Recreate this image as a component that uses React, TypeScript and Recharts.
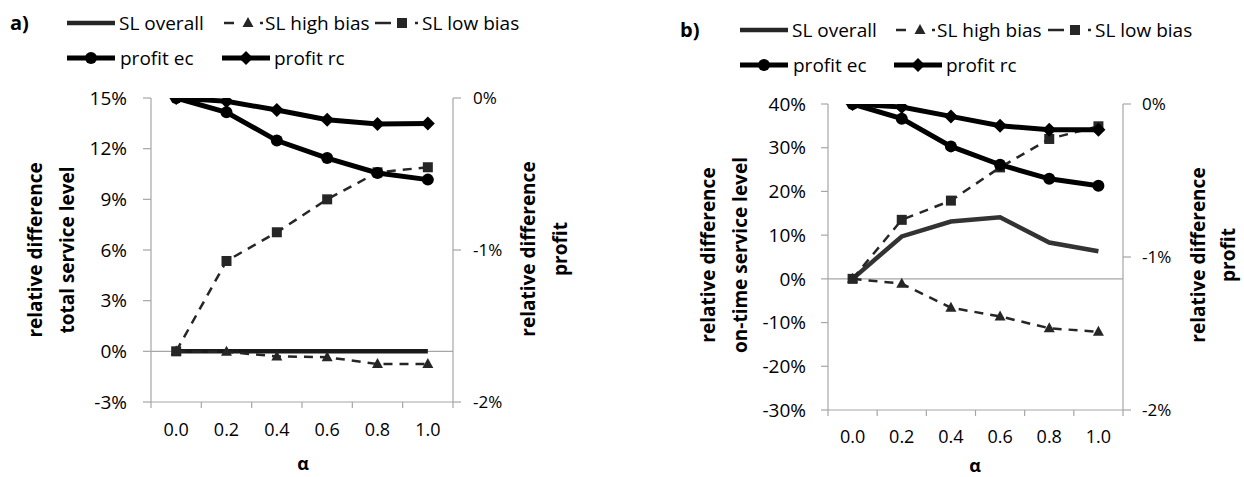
import React from 'react';
import { LineChart, Line, XAxis, YAxis, ReferenceLine } from 'recharts';

// ---------- data ----------
const alphaLabels = ['0.0', '0.2', '0.4', '0.6', '0.8', '1.0'];

// panel a (service level in %, profit in %)
const slOverallA = [0, 0, 0, 0, 0, 0];
const slHighA = [0, -0.03, -0.3, -0.35, -0.75, -0.75];
const slLowA = [0, 5.35, 7.05, 9.0, 10.6, 10.9];
const profitEcA = [0, -0.094, -0.28, -0.395, -0.493, -0.537];
const profitRcA = [0, -0.022, -0.079, -0.143, -0.171, -0.167];

// panel b
const slOverallB = [0, 9.7, 13.1, 14.1, 8.3, 6.3];
const slHighB = [0, -1.1, -6.6, -8.6, -11.3, -12.1];
const slLowB = [0, 13.5, 17.9, 25.5, 32.0, 34.9];
const profitEcB = [0, -0.096, -0.277, -0.397, -0.489, -0.534];
const profitRcB = [0, -0.02, -0.081, -0.142, -0.168, -0.168];

const leftTicksA = [-3, 0, 3, 6, 9, 12, 15];
const leftTicksB = [-30, -20, -10, 0, 10, 20, 30, 40];
const rightTicks = [-2, -1, 0];

const leftDomainA: [number, number] = [-3, 15];
const leftDomainB: [number, number] = [-30, 40];
const rightDomain: [number, number] = [-2, 0];

const seriesNames = ['SL overall', 'SL high bias', 'SL low bias', 'profit ec', 'profit rc'];

const build = (o: number[], h: number[], l: number[], e: number[], r: number[]) =>
  alphaLabels.map((a, i) => ({ alpha: a, slOverall: o[i], slHigh: h[i], slLow: l[i], profitEc: e[i], profitRc: r[i] }));

const dataA = build(slOverallA, slHighA, slLowA, profitEcA, profitRcA);
const dataB = build(slOverallB, slHighB, slLowB, profitEcB, profitRcB);

// ---------- styles ----------
const GRAY = '#a6a6a6';
const DARK = '#262626';
const FONT = "'Open Sans', sans-serif";
const AXIS_STYLE = { stroke: GRAY, strokeWidth: 1.2 };
const L_TICK = { fontSize: 19, fill: '#000', fontFamily: FONT };
const R_TICK = { fontSize: 17, fill: '#000', fontFamily: FONT };

const triShape = (cx: number, cy: number, k?: string) => (
  <path key={k} d={`M${cx},${cy - 6}L${cx + 5.5},${cy + 4}L${cx - 5.5},${cy + 4}Z`} fill={DARK} />
);
const sqShape = (cx: number, cy: number, k?: string) => (
  <rect key={k} x={cx - 5} y={cy - 5} width={10} height={10} fill={DARK} />
);
const circShape = (cx: number, cy: number, k?: string) => <circle key={k} cx={cx} cy={cy} r={6} fill="#000" />;
const diaShape = (cx: number, cy: number, k?: string) => (
  <path key={k} d={`M${cx},${cy - 7}L${cx + 7},${cy}L${cx},${cy + 7}L${cx - 7},${cy}Z`} fill="#000" />
);

const mkDot = (fn: (cx: number, cy: number, k?: string) => React.ReactElement, pfx: string) => (p: any) => {
  if (p.cx == null || p.cy == null) return <g key={`${pfx}${p.index}`} />;
  return fn(p.cx, p.cy, `${pfx}${p.index}`);
};
const triDot = mkDot(triShape, 't');
const sqDot = mkDot(sqShape, 's');
const circDot = mkDot(circShape, 'c');
const diaDot = mkDot(diaShape, 'd');

const pct = (v: number) => `${v}%`;

// category tick: label centred in the band, tick marks on band boundaries (Excel style)
const makeCatTick = (margin: number) => (props: any) => {
  const { x, y, payload, index, visibleTicksCount, width } = props;
  const half =
    payload && typeof payload.offset === 'number' && payload.offset > 0
      ? payload.offset
      : width / (visibleTicksCount || 6) / 2;
  const y0 = y - margin;
  return (
    <g>
      <line x1={x - half} x2={x - half} y1={y0} y2={y0 + 6} stroke={GRAY} strokeWidth={1.2} />
      {index === visibleTicksCount - 1 ? (
        <line x1={x + half} x2={x + half} y1={y0} y2={y0 + 6} stroke={GRAY} strokeWidth={1.2} />
      ) : null}
      <text x={x} y={y} dy="0.71em" textAnchor="middle" fontSize={18} fill="#000" fontFamily={FONT}>
        {payload.value}
      </text>
    </g>
  );
};

type PanelProps = {
  data: any[];
  left: number;
  width: number;
  top: number;
  xAxisH: number;
  leftW: number;
  rightW: number;
  leftDomain: [number, number];
  leftTicks: number[];
  overallColor: string;
  leftTickMargin: number;
  rightTickMargin: number;
  xTickMargin: number;
  leftTickSize: number;
};

const Panel = (p: PanelProps) => {
  const catTick = React.useMemo(() => makeCatTick(p.xTickMargin), [p.xTickMargin]);
  return (
    <div style={{ position: 'absolute', left: p.left, top: 0 }}>
      <LineChart width={p.width} height={477} data={p.data} margin={{ top: p.top, right: 0, bottom: 0, left: 0 }}>
        <XAxis
          xAxisId="cat"
          dataKey="alpha"
          scale="band"
          interval={0}
          tickLine={false}
          tickSize={0}
          tickMargin={p.xTickMargin}
          height={p.xAxisH}
          axisLine={AXIS_STYLE}
          tick={catTick}
        />
        <YAxis
          yAxisId="left"
          orientation="left"
          width={p.leftW}
          domain={p.leftDomain}
          ticks={p.leftTicks}
          interval={0}
          tickFormatter={pct}
          tickSize={p.leftTickSize}
          tickMargin={p.leftTickMargin}
          axisLine={AXIS_STYLE}
          tickLine={AXIS_STYLE}
          tick={L_TICK}
          allowDataOverflow
        />
        <YAxis
          yAxisId="right"
          orientation="right"
          width={p.rightW}
          domain={rightDomain}
          ticks={rightTicks}
          interval={0}
          tickFormatter={pct}
          tickSize={8}
          tickMargin={p.rightTickMargin}
          axisLine={AXIS_STYLE}
          tickLine={AXIS_STYLE}
          tick={R_TICK}
          allowDataOverflow
        />
        <ReferenceLine xAxisId="cat" yAxisId="left" y={0} stroke={GRAY} strokeWidth={1.2} />
        <Line
          xAxisId="cat"
          yAxisId="left"
          dataKey="slOverall"
          name={seriesNames[0]}
          stroke={p.overallColor}
          strokeWidth={4.5}
          dot={false}
          isAnimationActive={false}
        />
        <Line
          xAxisId="cat"
          yAxisId="left"
          dataKey="slHigh"
          name={seriesNames[1]}
          stroke={DARK}
          strokeWidth={2.5}
          strokeDasharray="9 7"
          dot={triDot}
          isAnimationActive={false}
        />
        <Line
          xAxisId="cat"
          yAxisId="left"
          dataKey="slLow"
          name={seriesNames[2]}
          stroke={DARK}
          strokeWidth={2.5}
          strokeDasharray="9 7"
          dot={sqDot}
          isAnimationActive={false}
        />
        <Line
          xAxisId="cat"
          yAxisId="right"
          dataKey="profitEc"
          name={seriesNames[3]}
          stroke="#000"
          strokeWidth={5}
          dot={circDot}
          isAnimationActive={false}
        />
        <Line
          xAxisId="cat"
          yAxisId="right"
          dataKey="profitRc"
          name={seriesNames[4]}
          stroke="#000"
          strokeWidth={5}
          dot={diaDot}
          isAnimationActive={false}
        />
      </LineChart>
    </div>
  );
};

type LegendPos = {
  y1: number;
  y2: number;
  ov: number; // start of overall / ec sample
  hi: number; // start of high-bias dash
  lo: number; // start of low-bias dash
  rc: number; // start of rc sample
};

const LegendBlock = ({ y1, y2, ov, hi, lo, rc }: LegendPos) => {
  const fs = 19;
  return (
    <g fontFamily={FONT} fontSize={fs} fill="#000">
      {/* SL overall */}
      <line x1={ov} x2={ov + 48} y1={y1} y2={y1} stroke="#262626" strokeWidth={4.5} />
      <text x={ov + 52} y={y1} dominantBaseline="central">{seriesNames[0]}</text>
      {/* SL high bias */}
      <line x1={hi} x2={hi + 10} y1={y1} y2={y1} stroke={DARK} strokeWidth={2.5} />
      {triShape(hi + 24, y1)}
      <line x1={hi + 36} x2={hi + 39} y1={y1} y2={y1} stroke={DARK} strokeWidth={2.5} />
      <text x={hi + 41} y={y1} dominantBaseline="central">{seriesNames[1]}</text>
      {/* SL low bias */}
      <line x1={lo} x2={lo + 16} y1={y1} y2={y1} stroke={DARK} strokeWidth={2.5} />
      {sqShape(lo + 27, y1)}
      <line x1={lo + 40} x2={lo + 43} y1={y1} y2={y1} stroke={DARK} strokeWidth={2.5} />
      <text x={lo + 47} y={y1} dominantBaseline="central">{seriesNames[2]}</text>
      {/* profit ec */}
      <line x1={ov} x2={ov + 48} y1={y2} y2={y2} stroke="#000" strokeWidth={5} />
      {circShape(ov + 24, y2)}
      <text x={ov + 53} y={y2} dominantBaseline="central">{seriesNames[3]}</text>
      {/* profit rc */}
      <line x1={rc} x2={rc + 48} y1={y2} y2={y2} stroke="#000" strokeWidth={5} />
      {diaShape(rc + 24, y2)}
      <text x={rc + 52} y={y2} dominantBaseline="central">{seriesNames[4]}</text>
    </g>
  );
};

const VText = ({ x, y, children }: { x: number; y: number; children: string }) => (
  <text
    x={x}
    y={y}
    transform={`rotate(-90 ${x} ${y})`}
    textAnchor="middle"
    dominantBaseline="central"
    fontFamily={FONT}
    fontWeight={700}
    fontSize={19}
    fill="#000"
  >
    {children}
  </text>
);

export default function App() {
  return (
    <div style={{ position: 'absolute', left: 0, top: 0, width: 1244, height: 477, background: '#fff', fontFamily: FONT }}>
      <Panel
        data={dataA}
        left={0}
        width={620}
        top={98}
        xAxisH={75}
        leftW={151}
        rightW={167}
        leftDomain={leftDomainA}
        leftTicks={leftTicksA}
        overallColor="#1a1a1a"
        leftTickMargin={16}
        rightTickMargin={12}
        xTickMargin={21}
        leftTickSize={8}
      />
      <Panel
        data={dataB}
        left={620}
        width={624}
        top={104}
        xAxisH={67}
        leftW={208}
        rightW={121}
        leftDomain={leftDomainB}
        leftTicks={leftTicksB}
        overallColor="#333333"
        leftTickMargin={15}
        rightTickMargin={11}
        xTickMargin={20}
        leftTickSize={7}
      />
      <svg width={1244} height={477} style={{ position: 'absolute', left: 0, top: 0, pointerEvents: 'none' }}>
        <text x={10} y={22} dominantBaseline="central" fontFamily={FONT} fontWeight={700} fontSize={20}>a)</text>
        <text x={680} y={29} dominantBaseline="central" fontFamily={FONT} fontWeight={700} fontSize={20}>b)</text>
        <LegendBlock y1={23} y2={58} ov={67} hi={224} lo={375} rc={222} />
        <LegendBlock y1={30} y2={65} ov={740} hi={896} lo={1048} rc={894} />
        <VText x={35} y={250}>relative difference</VText>
        <VText x={67} y={250}>total service level</VText>
        <VText x={528} y={249}>relative difference</VText>
        <VText x={560} y={249}>profit</VText>
        <VText x={708} y={255}>relative difference</VText>
        <VText x={740} y={255}>on-time service level</VText>
        <VText x={1198} y={255}>relative difference</VText>
        <VText x={1228} y={255}>profit</VText>
        <text x={303} y={463} textAnchor="middle" dominantBaseline="central" fontFamily={FONT} fontWeight={700} fontSize={18}>α</text>
        <text x={975} y={465} textAnchor="middle" dominantBaseline="central" fontFamily={FONT} fontWeight={700} fontSize={18}>α</text>
      </svg>
    </div>
  );
}
